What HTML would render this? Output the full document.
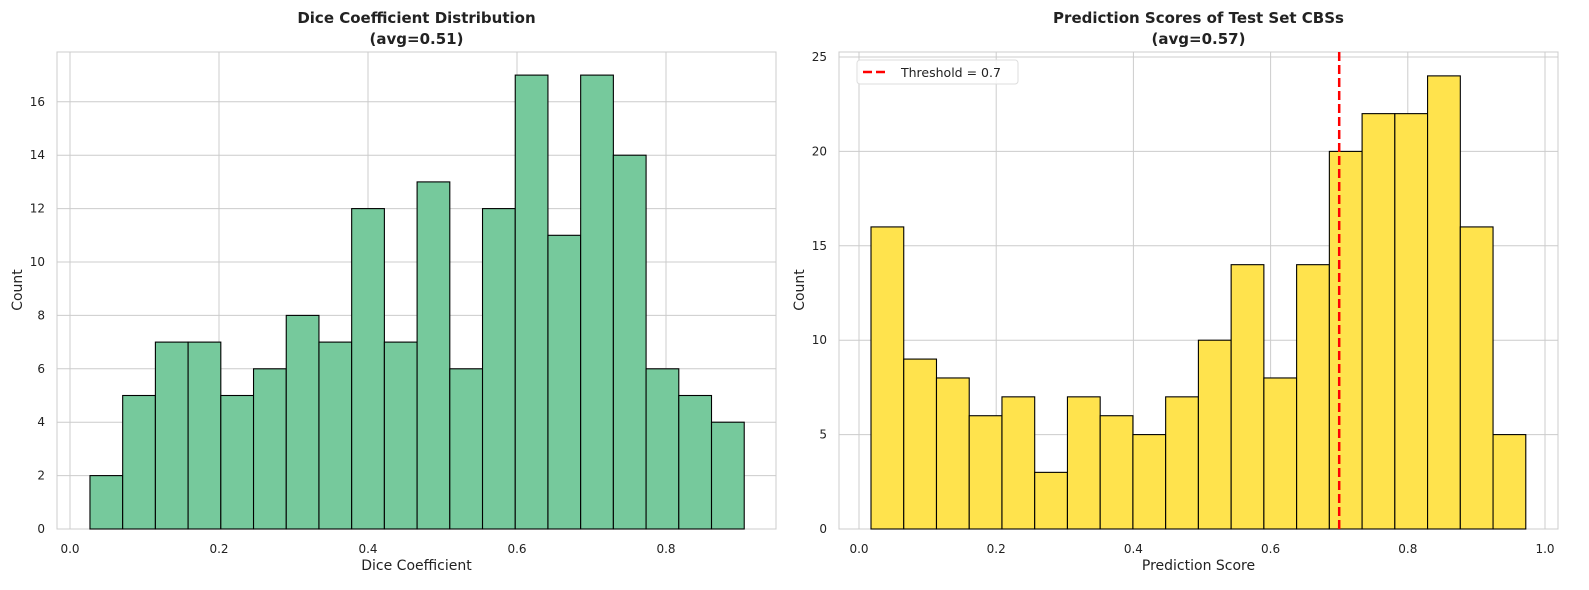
<!DOCTYPE html>
<html><head><meta charset="utf-8"><style>
html,body{margin:0;padding:0;background:#fff;overflow:hidden;width:1589px;height:590px}
svg{display:block;font-family:"DejaVu Sans","Liberation Sans",sans-serif}
</style></head><body>
<svg id="c" width="1589" height="590" viewBox="0 0 1589 590"></svg>
<script>
const leftCounts=[2,5,7,7,5,6,8,7,12,7,13,6,12,17,11,17,14,6,5,4];
const leftRange=[0.0268,0.905];
const leftXTicks=[0,0.2,0.4,0.6,0.8];
const leftYTicks=[0,2,4,6,8,10,12,14,16];
const rightCounts=[16,9,8,6,7,3,7,6,5,7,10,14,8,14,20,22,22,24,16,5];
const rightRange=[0.0175,0.972];
const rightXTicks=[0,0.2,0.4,0.6,0.8,1.0];
const rightYTicks=[0,5,10,15,20,25];
const threshold=0.7;
const NS="http://www.w3.org/2000/svg";
const svg=document.getElementById('c');
function el(t,a,p){const e=document.createElementNS(NS,t);for(const k in a)e.setAttribute(k,a[k]);(p||svg).appendChild(e);return e;}
function txt(s,a,p){const e=el('text',a,p);e.textContent=s;return e;}
function panel(o){
  const g=el('g',{});
  
  
  const X=v=>o.x0px+(v-0)*o.xs, Y=v=>529-v*o.ys;
  el('rect',{x:o.L,y:52,width:o.R-o.L,height:477,fill:'#fff',stroke:'#ccc','stroke-width':1},g);
  o.xt.forEach(t=>{const x=X(t);el('line',{x1:x,x2:x,y1:52,y2:529,stroke:'#ccc'},g);
    const l=txt(t.toFixed(1),{x:x,y:553,'font-size':12,'text-anchor':'middle',fill:'#222'},g);
    });
  o.yt.forEach(t=>{const y=Y(t);el('line',{x1:o.L,x2:o.R,y1:y,y2:y,stroke:'#ccc'},g);
    const l=txt(String(t),{x:o.L-12,y:y+4,'font-size':12,'text-anchor':'end',fill:'#222'},g);
    });
  const n=o.counts.length,w=(o.range[1]-o.range[0])/n;
  o.counts.forEach((c,i)=>{const x1=X(o.range[0]+i*w),x2=X(o.range[0]+(i+1)*w);
    const b=el('rect',{x:x1,y:Y(c),width:x2-x1,height:Y(0)-Y(c),fill:o.fill,stroke:'#000','stroke-width':1.1},g);
    });
  const t1=txt(o.title,{x:(o.L+o.R)/2,y:23,'font-size':15,'font-weight':'bold','text-anchor':'middle',fill:'#222'},g);
  
  const t2=txt(o.sub,{x:(o.L+o.R)/2,y:44,'font-size':15,'font-weight':'bold','text-anchor':'middle',fill:'#222'},g);
  
  const xl=txt(o.xlabel,{x:(o.L+o.R)/2,y:570,'font-size':14,'text-anchor':'middle',fill:'#222'},g);
  
  const yl=txt('Count',{x:0,y:0,'font-size':14,'text-anchor':'middle',fill:'#222',transform:`translate(${o.L-35},290) rotate(-90)`},g);
  
  return {g,X,Y};
}
panel({name:'dice-histogram',L:57,R:776,x0px:70,xs:745,ys:26.7,counts:leftCounts,range:leftRange,xt:leftXTicks,yt:leftYTicks,fill:'#76c99c',title:'Dice Coefficient Distribution',sub:'(avg=0.51)',xlabel:'Dice Coefficient'});
const r=panel({name:'prediction-histogram',L:839,R:1558,x0px:859,xs:686,ys:18.88,counts:rightCounts,range:rightRange,xt:rightXTicks,yt:rightYTicks,fill:'#ffe34d',title:'Prediction Scores of Test Set CBSs',sub:'(avg=0.57)',xlabel:'Prediction Score'});
const tl=el('line',{x1:r.X(threshold),x2:r.X(threshold),y1:52,y2:529,stroke:'#f00','stroke-width':2.5,'stroke-dasharray':'9,4'},r.g);

const lg=el('g',{},r.g);

el('rect',{x:857,y:60,width:161,height:24,rx:3,fill:'#fff','fill-opacity':0.85,stroke:'#ddd'},lg);
el('line',{x1:863,x2:889,y1:72,y2:72,stroke:'#f00','stroke-width':2.5,'stroke-dasharray':'9,4'},lg);
txt('Threshold = 0.7',{x:901,y:77,'font-size':12.5,fill:'#222'},lg);
</script>
</body></html>
